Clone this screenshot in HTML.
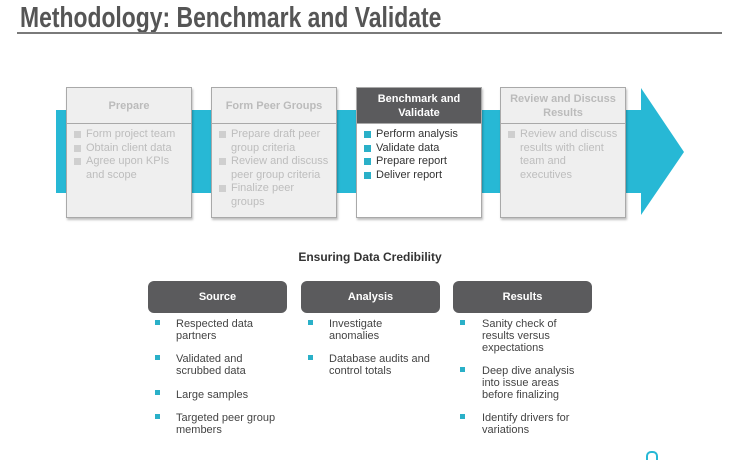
<!DOCTYPE html>
<html><head><meta charset="utf-8"><style>
body{margin:0;width:740px;height:460px;background:#fff;position:relative;overflow:hidden;font-family:"Liberation Sans",Arial,sans-serif}
.t{position:absolute;left:20px;top:2px;font-family:"Liberation Sans Narrow","Liberation Sans",sans-serif;font-size:29px;font-weight:bold;color:#555;white-space:nowrap;transform-origin:0 0;transform:scaleX(0.79)}
.rule{position:absolute;left:17px;top:32px;width:705px;height:2px;background:#7a7a7a}
.box{position:absolute;top:87px;width:124px;height:129px;background:#efefef;border:1px solid #a9a9a9;box-shadow:1px 2px 2px rgba(0,0,0,.25)}
.box .h{height:35px;border-bottom:1px solid #a9a9a9;display:flex;align-items:center;justify-content:center;text-align:center;font-size:11px;font-weight:bold;color:#bbb;line-height:14px}
.box ul{list-style:none;margin:0;padding:4px 0 0 7px}
.box li{position:relative;padding-left:12px;font-size:11px;line-height:13.5px;color:#bdbdbd;white-space:nowrap}
.box li:before{content:"";position:absolute;left:0;top:3px;width:7px;height:7px;background:#cfcfcf}
.box.act{background:#fff}
.box.act .h{background:#5b5b5d;color:#fff}
.box.act li{color:#333}
.box.act li:before{background:#2ab0c8}
.sub{position:absolute;left:0;width:740px;top:250px;text-align:center;font-size:12px;font-weight:bold;color:#333}
.pill{position:absolute;top:281px;width:139px;height:32px;border-radius:6px;background:#5b5b5d;color:#fff;font-size:11px;font-weight:bold;display:flex;align-items:center;justify-content:center}
.it{position:absolute;font-size:11px;line-height:12px;color:#444}
.sq{position:absolute;width:5px;height:5px;background:#2ab0c8}
</style></head><body>
<div class="t">Methodology: Benchmark and Validate</div>
<div class="rule"></div>
<svg style="position:absolute;left:0;top:0" width="740" height="230"><polygon points="56,110 641,110 641,88 684,152 641,215 641,193 56,193" fill="#27b8d5"/></svg>
<div class="box" style="left:66px"><div class="h">Prepare</div><ul><li>Form project team</li><li>Obtain client data</li><li>Agree upon KPIs<br>and scope</li></ul></div>
<div class="box" style="left:211px"><div class="h">Form Peer Groups</div><ul><li>Prepare draft peer<br>group criteria</li><li>Review and discuss<br>peer group criteria</li><li>Finalize peer<br>groups</li></ul></div>
<div class="box act" style="left:356px"><div class="h">Benchmark and<br>Validate</div><ul><li>Perform analysis</li><li>Validate data</li><li>Prepare report</li><li>Deliver report</li></ul></div>
<div class="box" style="left:500px"><div class="h">Review and Discuss<br>Results</div><ul><li>Review and discuss<br>results with client<br>team and<br>executives</li></ul></div>
<div class="sub">Ensuring Data Credibility</div>
<div class="pill" style="left:148px">Source</div>
<div class="pill" style="left:301px">Analysis</div>
<div class="pill" style="left:453px">Results</div>
<div class="sq" style="left:155px;top:320px"></div><div class="it" style="left:176px;top:318px">Respected data<br>partners</div>
<div class="sq" style="left:155px;top:355px"></div><div class="it" style="left:176px;top:353px">Validated and<br>scrubbed data</div>
<div class="sq" style="left:155px;top:390px"></div><div class="it" style="left:176px;top:389px">Large samples</div>
<div class="sq" style="left:155px;top:414px"></div><div class="it" style="left:176px;top:412px">Targeted peer group<br>members</div>
<div class="sq" style="left:308px;top:320px"></div><div class="it" style="left:329px;top:318px">Investigate<br>anomalies</div>
<div class="sq" style="left:308px;top:355px"></div><div class="it" style="left:329px;top:353px">Database audits and<br>control totals</div>
<div class="sq" style="left:460px;top:320px"></div><div class="it" style="left:482px;top:318px">Sanity check of<br>results versus<br>expectations</div>
<div class="sq" style="left:460px;top:367px"></div><div class="it" style="left:482px;top:365px">Deep dive analysis<br>into issue areas<br>before finalizing</div>
<div class="sq" style="left:460px;top:414px"></div><div class="it" style="left:482px;top:412px">Identify drivers for<br>variations</div>
<div style="position:absolute;left:646px;top:451px;width:12px;height:9px;border:2px solid #27b8d5;border-bottom:none;border-radius:5px 5px 0 0;box-sizing:border-box"></div>
</body></html>
